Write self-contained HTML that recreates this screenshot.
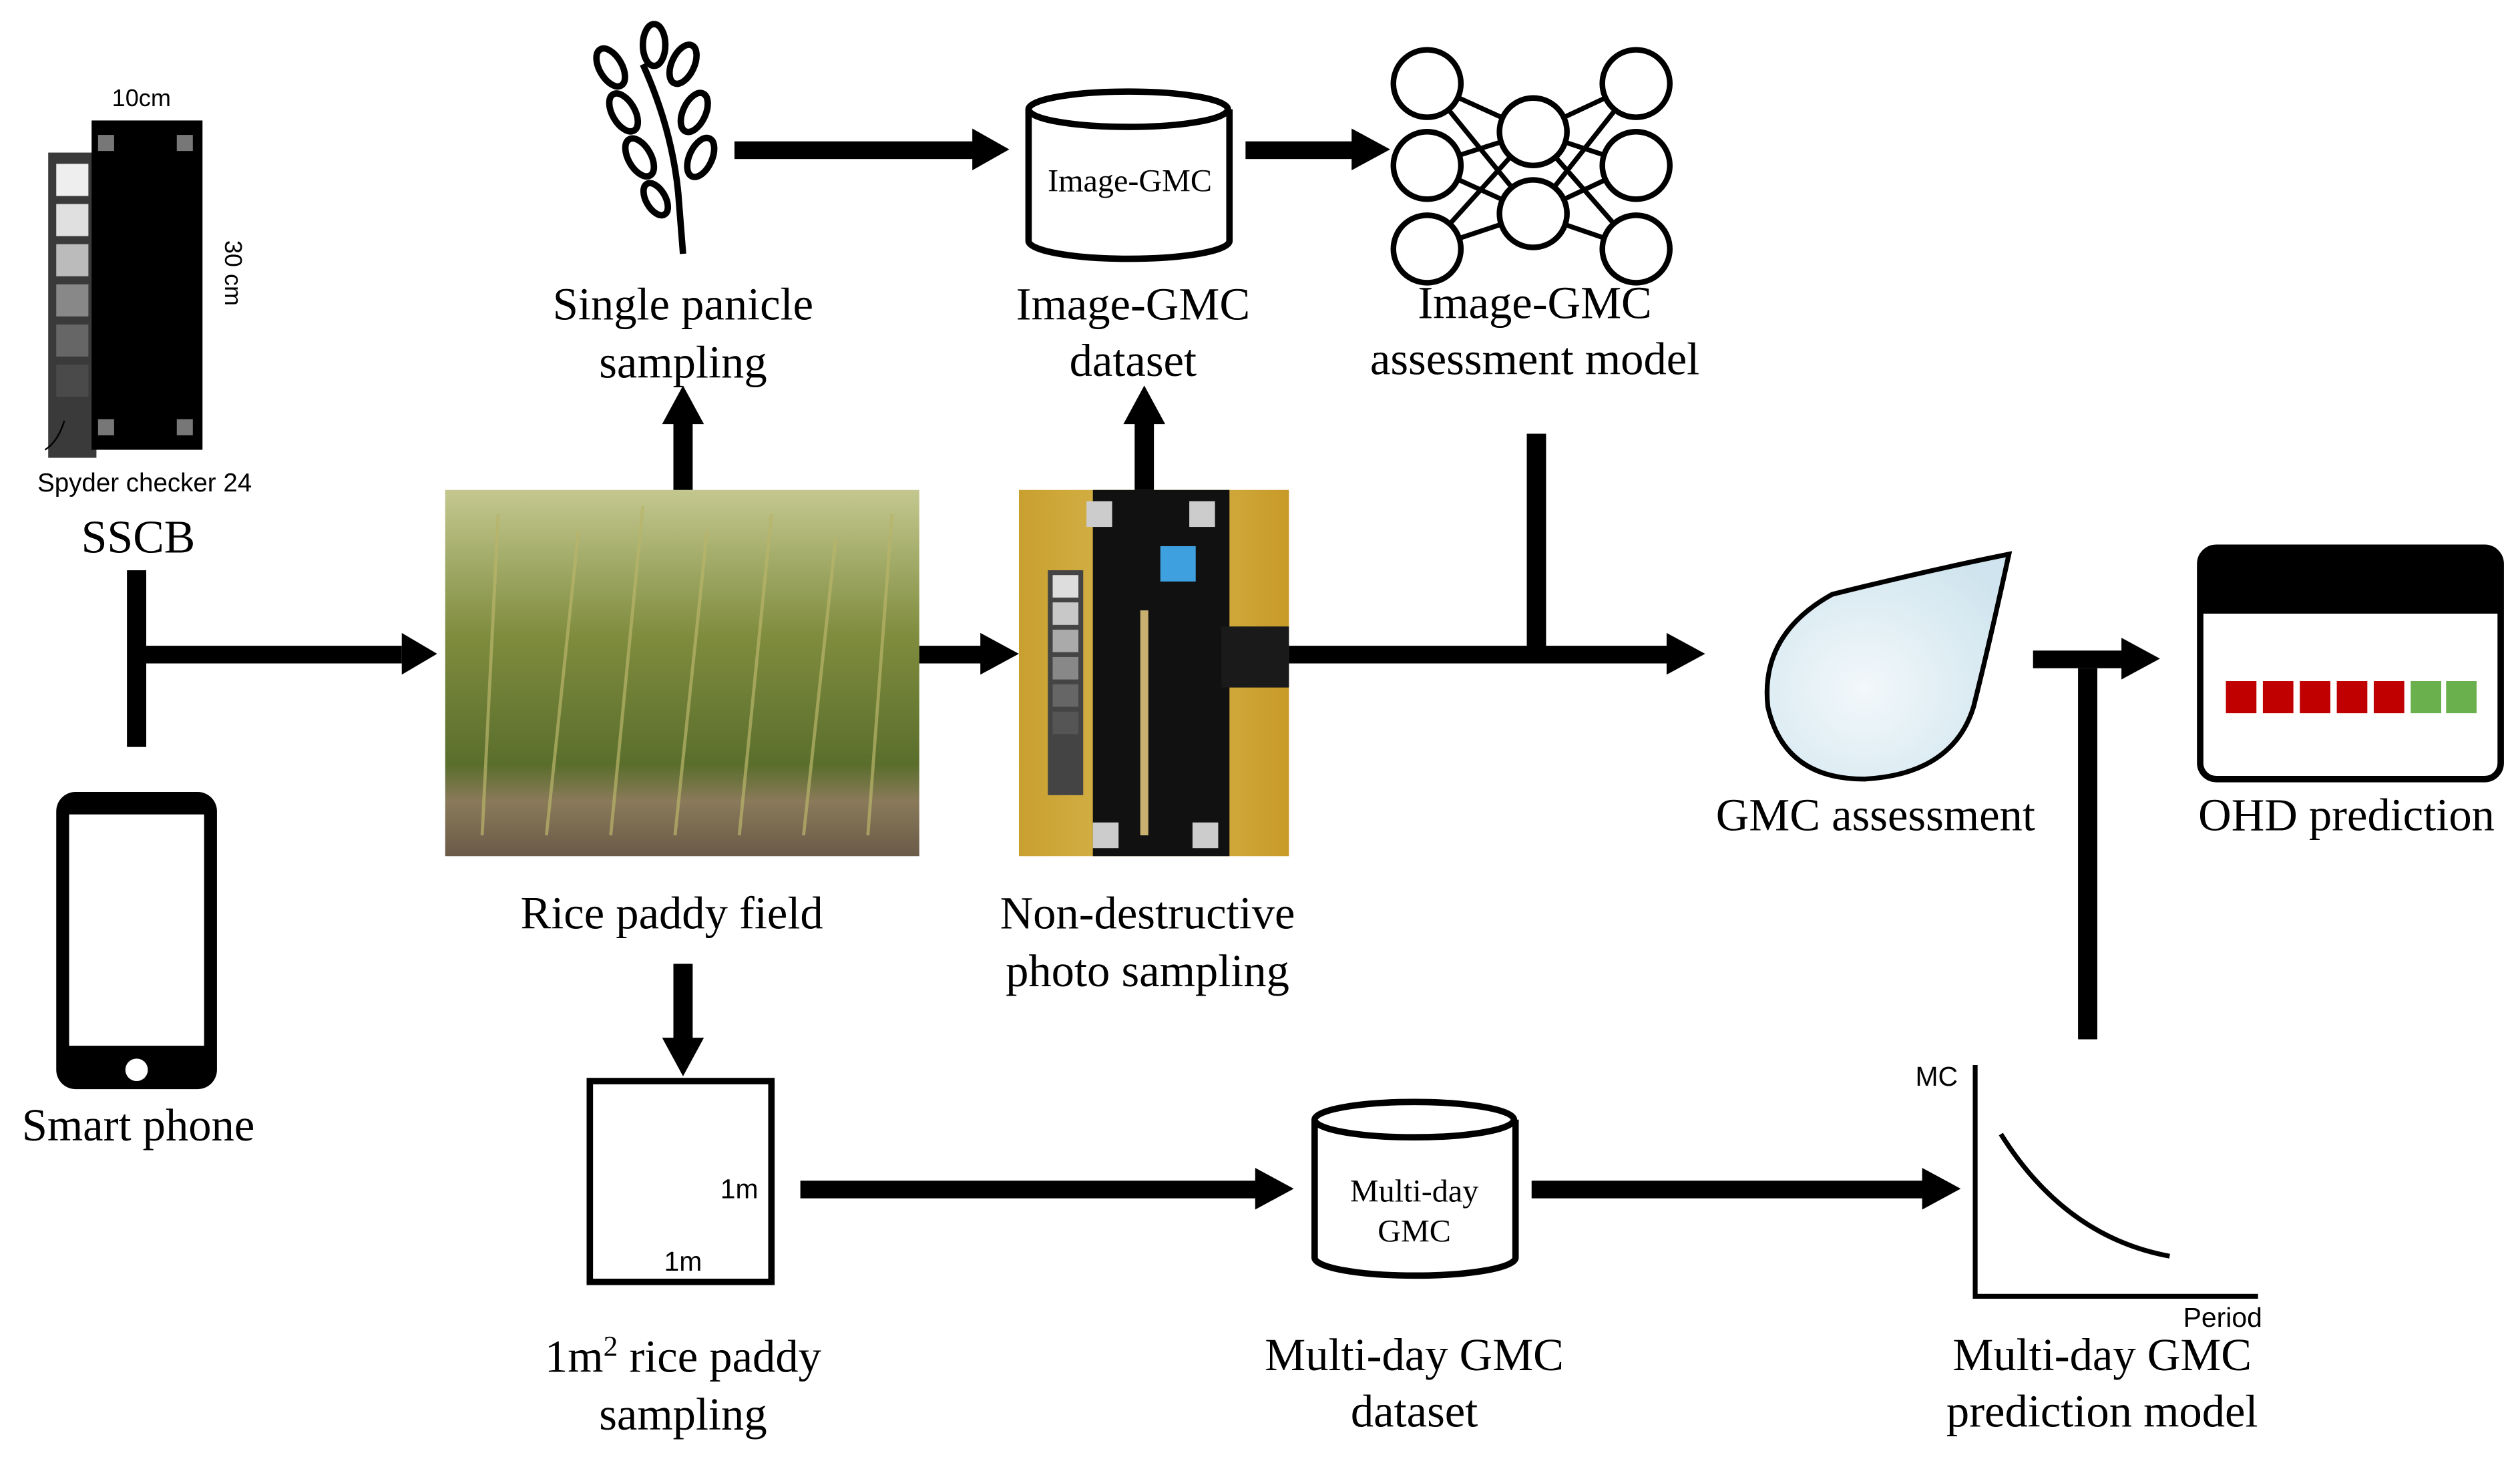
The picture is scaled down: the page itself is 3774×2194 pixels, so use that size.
<!DOCTYPE html>
<html><head><meta charset="utf-8"><style>html,body{margin:0;padding:0;background:#fff}svg{display:block}</style></head>
<body>
<svg width="3774" height="2194" viewBox="0 0 1568 912" preserveAspectRatio="none" xmlns="http://www.w3.org/2000/svg">
<defs>
<linearGradient id="field" x1="0" y1="0" x2="0" y2="1">
<stop offset="0" stop-color="#c4c890"/><stop offset="0.4" stop-color="#7f8c3e"/><stop offset="0.75" stop-color="#5a6e2c"/><stop offset="0.85" stop-color="#8a7a5a"/><stop offset="1" stop-color="#6a5a48"/>
</linearGradient>
<linearGradient id="ph" x1="0" y1="0" x2="1" y2="0">
<stop offset="0" stop-color="#c9a030"/><stop offset="0.5" stop-color="#d8b850"/><stop offset="1" stop-color="#c89a28"/>
</linearGradient>
<radialGradient id="drop" cx="0.4" cy="0.6" r="0.7"><stop offset="0" stop-color="#f2f8fb"/><stop offset="1" stop-color="#cfe4ee"/></radialGradient>
</defs>
<g font-family="Liberation Serif, serif" font-size="28.5" text-anchor="middle" fill="#000">
<rect x="30" y="95" width="30" height="190" fill="#3a3a3a"/>
<g fill="#eee"><rect x="35" y="102" width="20" height="20"/><rect x="35" y="127" width="20" height="20" fill="#e0e0e0"/><rect x="35" y="152" width="20" height="20" fill="#bbb"/><rect x="35" y="177" width="20" height="20" fill="#888"/><rect x="35" y="202" width="20" height="20" fill="#666"/><rect x="35" y="227" width="20" height="20" fill="#4a4a4a"/></g>
<rect x="57" y="75" width="69" height="205" fill="#000"/>
<g fill="#777"><rect x="61" y="84" width="10" height="10"/><rect x="110" y="84" width="10" height="10"/><rect x="61" y="261" width="10" height="10"/><rect x="110" y="261" width="10" height="10"/></g>
<text x="88" y="66" font-family="Liberation Sans, sans-serif" font-size="15">10cm</text>
<text x="140" y="170" font-family="Liberation Sans, sans-serif" font-size="15" transform="rotate(90 140 170)">30 cm</text>
<path d="M40 262 Q36 275 28 280" stroke="#000" fill="none" stroke-width="1"/>
<text x="90" y="306" font-family="Liberation Sans, sans-serif" font-size="16">Spyder checker 24</text>
<text x="86" y="344" font-size="29">SSCB</text>
<rect x="79" y="355" width="12" height="110" fill="#000"/>
<rect x="85" y="402" width="165" height="11" fill="#000"/>
<polygon points="250,394 272,407 250,420" fill="#000"/>
<rect x="35" y="493" width="100" height="185" rx="12" fill="#000"/>
<rect x="43" y="507" width="84" height="144" fill="#fff"/>
<circle cx="85" cy="666" r="7" fill="#fff"/>
<text x="86" y="710">Smart phone</text>
<rect x="277" y="305" width="295" height="228" fill="url(#field)"/>
<g stroke="#b9b56a" stroke-width="2" opacity="0.7"><path d="M300 520 L310 320 M340 520 L360 330 M380 520 L400 315 M420 520 L440 330 M460 520 L480 320 M500 520 L520 335 M540 520 L555 320"/></g>
<rect x="419" y="262" width="12" height="43" fill="#000"/>
<polygon points="412,264 425,240 438,264" fill="#000"/>
<g stroke="#000" stroke-width="4" fill="#fff">
<path d="M425 158 L422 120 Q418 80 400 40" fill="none"/>
<ellipse cx="380" cy="42" rx="7" ry="13" transform="rotate(-30 380 42)"/>
<ellipse cx="407" cy="28" rx="7" ry="13"/>
<ellipse cx="425" cy="40" rx="7" ry="13" transform="rotate(25 425 40)"/>
<ellipse cx="388" cy="70" rx="7" ry="13" transform="rotate(-30 388 70)"/>
<ellipse cx="432" cy="70" rx="7" ry="13" transform="rotate(25 432 70)"/>
<ellipse cx="398" cy="98" rx="7" ry="13" transform="rotate(-30 398 98)"/>
<ellipse cx="436" cy="98" rx="7" ry="13" transform="rotate(25 436 98)"/>
<ellipse cx="408" cy="124" rx="6" ry="11" transform="rotate(-30 408 124)"/>
</g>
<text x="425" y="199">Single panicle</text>
<text x="425" y="235">sampling</text>
<rect x="457" y="88" width="150" height="11" fill="#000"/>
<polygon points="605,80 628,93 605,106" fill="#000"/>
<g stroke="#000" stroke-width="4" fill="#fff">
<path d="M640 68 L640 150 A62 11 0 0 0 765 150 L765 68"/>
<ellipse cx="702" cy="68" rx="62" ry="11"/>
</g>
<text x="703" y="119" font-size="20">Image-GMC</text>
<text x="705" y="199">Image-GMC</text>
<text x="705" y="234">dataset</text>
<rect x="775" y="88" width="68" height="11" fill="#000"/>
<polygon points="841,80 865,93 841,106" fill="#000"/>
<g stroke="#000" stroke-width="3">
<path d="M888 52 L954 82 M888 52 L954 133 M888 103 L954 82 M888 103 L954 133 M888 155 L954 82 M888 155 L954 133 M954 82 L1018 52 M954 82 L1018 103 M954 82 L1018 155 M954 133 L1018 52 M954 133 L1018 103 M954 133 L1018 155"/>
</g>
<g stroke="#000" stroke-width="3.5" fill="#fff">
<circle cx="888" cy="52" r="21"/><circle cx="888" cy="103" r="21"/><circle cx="888" cy="155" r="21"/>
<circle cx="954" cy="82" r="21"/><circle cx="954" cy="133" r="21"/>
<circle cx="1018" cy="52" r="21"/><circle cx="1018" cy="103" r="21"/><circle cx="1018" cy="155" r="21"/>
</g>
<text x="955" y="198">Image-GMC</text>
<text x="955" y="233">assessment model</text>
<rect x="572" y="402" width="40" height="11" fill="#000"/>
<polygon points="610,394 634,407 610,420" fill="#000"/>
<rect x="634" y="305" width="168" height="228" fill="url(#ph)"/>
<rect x="680" y="305" width="85" height="228" fill="#111"/>
<rect x="760" y="390" width="42" height="38" fill="#1a1a1a"/>
<rect x="652" y="355" width="22" height="140" fill="#444"/>
<g fill="#ddd"><rect x="655" y="358" width="16" height="14"/><rect x="655" y="375" width="16" height="14" fill="#c8c8c8"/><rect x="655" y="392" width="16" height="14" fill="#aaa"/><rect x="655" y="409" width="16" height="14" fill="#888"/><rect x="655" y="426" width="16" height="14" fill="#666"/><rect x="655" y="443" width="16" height="14" fill="#555"/></g>
<rect x="722" y="340" width="22" height="22" fill="#3fa0e0"/>
<g fill="#ccc"><rect x="676" y="312" width="16" height="16"/><rect x="740" y="312" width="16" height="16"/><rect x="680" y="512" width="16" height="16"/><rect x="742" y="512" width="16" height="16"/></g>
<path d="M712 520 L712 380" stroke="#c8b070" stroke-width="5"/>
<rect x="706" y="262" width="12" height="43" fill="#000"/>
<polygon points="699,264 712,240 725,264" fill="#000"/>
<rect x="802" y="402" width="237" height="11" fill="#000"/>
<polygon points="1037,394 1061,407 1037,420" fill="#000"/>
<rect x="950" y="270" width="12" height="142" fill="#000"/>
<path d="M1250 345 Q1200 355 1140 370 Q1095 395 1100 440 Q1110 485 1160 485 Q1215 482 1228 440 Q1238 400 1250 345 Z" fill="url(#drop)" stroke="#000" stroke-width="3"/>
<text x="1167" y="517">GMC assessment</text>
<rect x="1265" y="405" width="58" height="11" fill="#000"/>
<polygon points="1320,397 1344,410 1320,423" fill="#000"/>
<rect x="1293" y="416" width="12" height="231" fill="#000"/>
<rect x="1369" y="341" width="187" height="144" rx="10" fill="#fff" stroke="#000" stroke-width="4"/>
<path d="M1369 382 L1369 351 Q1369 341 1379 341 L1546 341 Q1556 341 1556 351 L1556 382 Z" fill="#000"/>
<g fill="#c00000"><rect x="1385" y="424" width="19" height="20"/><rect x="1408" y="424" width="19" height="20"/><rect x="1431" y="424" width="19" height="20"/><rect x="1454" y="424" width="19" height="20"/><rect x="1477" y="424" width="19" height="20"/></g>
<g fill="#6ab04c"><rect x="1500" y="424" width="19" height="20"/><rect x="1522" y="424" width="19" height="20"/></g>
<text x="1460" y="517">OHD prediction</text>
<text x="418" y="578">Rice paddy field</text>
<text x="714" y="578">Non-destructive</text>
<text x="714" y="614">photo sampling</text>
<rect x="419" y="600" width="12" height="48" fill="#000"/>
<polygon points="412,646 425,670 438,646" fill="#000"/>
<rect x="367" y="673" width="113" height="125" fill="#fff" stroke="#000" stroke-width="4"/>
<text x="460" y="746" font-family="Liberation Sans, sans-serif" font-size="17">1m</text>
<text x="425" y="791" font-family="Liberation Sans, sans-serif" font-size="17">1m</text>
<text x="425" y="854">1m<tspan font-size="18" dy="-10">2</tspan><tspan dy="10"> rice paddy</tspan></text>
<text x="425" y="890">sampling</text>
<rect x="498" y="735" width="285" height="11" fill="#000"/>
<polygon points="781,727 805,740 781,753" fill="#000"/>
<g stroke="#000" stroke-width="4" fill="#fff">
<path d="M818 697 L818 783 A62 11 0 0 0 943 783 L943 697"/>
<ellipse cx="880" cy="697" rx="62" ry="11"/>
</g>
<text x="880" y="748" font-size="20">Multi-day</text>
<text x="880" y="773" font-size="20">GMC</text>
<text x="880" y="853">Multi-day GMC</text>
<text x="880" y="888">dataset</text>
<rect x="953" y="735" width="245" height="11" fill="#000"/>
<polygon points="1196,727 1220,740 1196,753" fill="#000"/>
<path d="M1229 663 L1229 807 L1405 807" stroke="#000" stroke-width="3" fill="none"/>
<path d="M1245 706 Q1285 770 1350 782" stroke="#000" stroke-width="3" fill="none"/>
<text x="1205" y="676" font-family="Liberation Sans, sans-serif" font-size="17">MC</text>
<text x="1383" y="826" font-family="Liberation Sans, sans-serif" font-size="17">Period</text>
<text x="1308" y="853">Multi-day GMC</text>
<text x="1308" y="888">prediction model</text>
</g>
</svg>
</body></html>
